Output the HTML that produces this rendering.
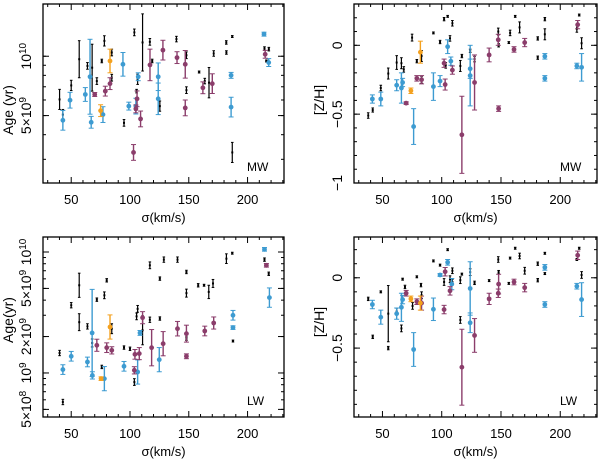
<!DOCTYPE html>
<html><head><meta charset="utf-8">
<style>
html,body{margin:0;padding:0;background:#fff;}
svg{display:block;font-family:"Liberation Sans",sans-serif;}
</style></head>
<body>
<svg id="chart" width="600" height="462" viewBox="0 0 600 462" xmlns="http://www.w3.org/2000/svg"></svg>
<script>
// ---- Data: [sigma, value, error] ----
const ageMwBlue=[[42.9,9.675,.05],[49,9.777,.04],[62,9.806,.035],[66,9.896,.19],[67,9.665,.03],[77,9.704,.04],[94,9.959,.06],[99,9.747,.02],[105,9.747,.04],[107,9.896,.02],[124,9.896,.07],[124,9.784,.08],[186,9.903,.015],[186,9.742,.05],[214,10.112,.01],[218,9.968,.02]];
const ageMwPurple=[[70,9.806,.01],[79,9.823,.025],[83,9.861,.03],[103,9.512,.04],[105,9.733,.02],[106,9.784,.04],[109,9.682,.04],[117,9.956,.08],[128,10.031,.05],[140,9.993,.03],[147,9.738,.04],[147,9.959,.07],[162,9.840,.03],[170,9.861,.05],[215,10.01,.02]];
const ageMwOrange=[[75,9.724,.03],[83,9.976,.06]];
const ageMwBlack=[[40.1,9.781,.051],[42.9,9.704,.026],[50,9.852,.026],[56.8,9.985,.094],[63.8,9.951,.017],[67.8,9.942,.119],[71.8,9.874,.017],[76,9.976,.009],[78.2,10.078,.026],[84.5,10.019,.017],[84.5,9.891,.017],[94.9,9.662,.017],[103.7,10.121,.017],[105.6,9.823,.009],[106.5,9.883,.026],[110.7,10.07,.145],[116.9,10.073,.017],[118.9,9.976,.009],[125.4,9.747,.026],[139.5,10.087,.014],[148,10.005,.017],[148,9.828,.017],[158.8,9.92,.005],[163.6,9.874,.014],[167.2,9.866,.077],[171.2,10.014,.014],[181.9,10.07,.009],[182,10.019,.009],[187,10.1,.005],[187,9.512,.051],[214.4,10.039,.009],[218.1,10.036,.009],[216,9.976,.005]];

const zMwBlue=[[41.5,-0.39,.03],[48.6,-0.39,.05],[62,-0.29,.04],[66,-0.31,.11],[67,-0.27,.03],[76.3,-0.59,.13],[93,-0.30,.1],[98.6,-0.26,.04],[105,-0.01,.05],[107.7,-0.115,.03],[124,-0.17,.07],[124,-0.22,.22],[187,-0.08,.02],[187,-0.24,.02],[214,-0.15,.02],[218,-0.16,.1]];
const zMwPurple=[[70,-0.42,.01],[79,-0.24,.02],[83,-0.25,.03],[102,-0.13,.03],[102.9,-0.285,.04],[109,-0.18,.03],[117,-0.65,.28],[127.7,-0.27,.2],[140,-0.07,.05],[147.7,0.04,.04],[148,-0.46,.02],[161,-0.03,.02],[170,0.02,.03],[214.7,0.15,.03]];
const zMwOrange=[[74,-0.33,.02],[82,-0.05,.08]];
const zMwBlack=[[38,-0.51,.02],[41.8,-0.47,.015],[48.6,-0.31,.02],[54.9,-0.205,.04],[62,-0.125,.05],[66,-0.13,.04],[68,-0.175,.02],[75,0.056,.025],[79,-0.115,.012],[83,-0.078,.04],[83,-0.25,.025],[93,0.09,.007],[98.6,0.024,.012],[102,0.19,.012],[103.4,-0.146,.02],[105,0.21,.007],[107,0.05,.02],[109,0.16,.02],[115.7,-0.15,.04],[117,-0.078,.012],[124,-0.04,.012],[127.7,-0.1,.02],[147.7,0.1,.025],[148,0,.012],[157.7,0.09,.02],[156.6,0.02,.007],[162,0.21,.007],[165.7,0.13,.04],[181,0.05,.012],[181,-0.09,.012],[187,0.19,.012],[187,0.08,.04],[214,0.12,.025],[216,0.22,.007],[218,0.015,.04]];

const ageLwBlue=[[42.9,9.028,.04],[50,9.138,.04],[63.8,9.091,.04],[67.8,9.331,.36],[68,8.98,.03],[78.2,8.953,.1],[94.9,9.055,.04],[106.5,9.008,.1],[108.5,9.331,.02],[124.9,9.11,.1],[187.6,9.477,.04],[187.6,9.375,.015],[214.4,10.022,.015],[218.6,9.623,.08]];
const ageLwPurple=[[71.8,9.229,.05],[80.2,9.209,.04],[84.5,9.187,.03],[103.7,9.022,.03],[104.2,9.154,.04],[107.9,9.16,.05],[110.7,9.457,.05],[118.4,9.209,.15],[128.2,9.242,.1],[140.4,9.366,.06],[148,9.138,.02],[148,9.325,.07],[163.6,9.347,.04],[171.2,9.413,.05],[216,9.89,.015]];
const ageLwOrange=[[75.4,8.953,.015],[83,9.38,.1]];
const ageLwBlack=[[40.1,9.165,.022],[42.9,8.76,.022],[50,9.56,.022],[56.8,9.725,.1],[56.8,9.42,.07],[63.8,9.385,.022],[67.8,9.248,.033],[71.8,9.606,.014],[78.2,9.642,.028],[80.2,9.766,.014],[84.5,9.366,.041],[94.9,9.21,.014],[76,9.05,.014],[100,9.2,.014],[103.7,8.925,.028],[105.6,9.468,.028],[106.5,9.53,.028],[110.7,9.353,.12],[116.9,9.89,.028],[116.9,9.44,.022],[125.4,9.78,.014],[125.4,9.45,.014],[128.8,9.937,.022],[140.4,9.937,.022],[148,9.835,.014],[148,9.66,.033],[148,9.284,.014],[158,9.725,.014],[163,9.725,.008],[167,9.67,.055],[170.6,9.74,.033],[182,9.945,.04],[187,9.99,.008],[187.6,9.264,.008],[214.4,9.937,.014],[218,9.82,.014]];

const zLwBlue=[[41.5,-0.19,.03],[48.6,-0.28,.05],[62,-0.255,.04],[66,-0.21,.1],[67,-0.155,.03],[76.3,-0.51,.12],[93,-0.224,.08],[98.6,0.02,.01],[105,0.11,.02],[108.5,-0.045,.04],[124,-0.076,.19],[124,-0.32,.07],[187,0.074,.02],[187,-0.19,.02],[214,-0.06,.02],[218,-0.155,.12]];
const zLwPurple=[[70,-0.11,.02],[79,-0.17,.02],[83,-0.18,.05],[102,-0.226,.03],[102.9,0.043,.03],[107,-0.093,.03],[117,-0.636,.27],[127.7,-0.41,.12],[140,-0.15,.04],[147.7,-0.11,.03],[148,-0.045,.07],[161,-0.03,.02],[170,-0.07,.03],[214.7,0.16,.03]];
const zLwOrange=[[74,-0.15,.02],[82,-0.18,.05]];
const zLwBlack=[[38,-0.15,.012],[41.8,-0.42,.012],[48.6,-0.1,.007],[54.9,-0.255,.2],[54.9,-0.5,.012],[62,-0.24,.024],[66,-0.36,.024],[67,-0.01,.007],[69,-0.065,.012],[75.4,-0.2,.024],[79,0.007,.007],[82.5,-0.052,.012],[83,-0.124,.024],[93,0.12,.007],[98.6,0.09,.007],[102,-0.03,.024],[105,0.2,.007],[107,-0.01,.024],[109,0.05,.02],[109,-0.03,.02],[115.7,-0.017,.024],[117,0.026,.007],[115.7,-0.3,.024],[124,0.04,.024],[127.7,-0.036,.012],[140,-0.02,.007],[147.7,0.13,.02],[148,0.04,.012],[156.6,-0.04,.007],[157.7,0.14,.007],[162,0.21,.007],[165.7,0.155,.02],[170,0.05,.024],[181,0.1,.012],[181,-0.017,.012],[187,0.174,.007],[187,0.03,.007],[214,0.13,.007],[216,0.21,.007],[218,0.02,.024]];

const xTicks=[50,100,150,200];
const ageMwTicks=[[10,"10",true],[Math.log10(5e9),"5×10",true]];
const ageLwTicks=[[10,"10",true],[Math.log10(5e9),"5×10",true],[Math.log10(2e9),"2×10",true],[9,"10",true],[Math.log10(5e8),"5×10",true]];
const zTicks=[0,-0.5,-1];

const NS="http://www.w3.org/2000/svg";
const svg=document.getElementById('chart');
function mk(tag,attrs,parent){const e=document.createElementNS(NS,tag);for(const k in attrs)e.setAttribute(k,attrs[k]);(parent||svg).appendChild(e);return e;}
const C={blue:"#3d9bd1",purple:"#8b3d6b",orange:"#f4a11f",black:"#000"};

function panel(cfg){
  const g=mk('g',{});
  
  
  const L=cfg.x0,R=cfg.x1,T=cfg.y0,B=cfg.y1;
  const sx=v=>L+(v-26)/(231-26)*(R-L);
  const sy=v=>B-(v-cfg.ymin)/(cfg.ymax-cfg.ymin)*(B-T);
  const frame=mk('rect',{x:L,y:T,width:R-L,height:B-T,fill:'none',stroke:'#000','stroke-width':1.3},g);
  
  
  for(let v=30;v<=230;v+=10){
    const major=v%50===0;const len=major?6:3;const x=sx(v);
    mk('line',{x1:x,x2:x,y1:B,y2:B-len,stroke:'#000','stroke-width':1},g);
    mk('line',{x1:x,x2:x,y1:T,y2:T+len,stroke:'#000','stroke-width':1},g);
  }
  xTicks.forEach(v=>{
    const t=mk('text',{x:sx(v),y:B+21,'text-anchor':'middle','font-size':13},g);
    t.textContent=v;
    
    
  });
  const xl=mk('text',{x:(L+R)/2,y:B+39,'text-anchor':'middle','font-size':13},g);
  xl.textContent='σ(km/s)';
  
  
  cfg.minor.forEach(v=>{const y=sy(v);if(y<T||y>B)return;
    mk('line',{x1:L,x2:L+3,y1:y,y2:y,stroke:'#000'},g);mk('line',{x1:R,x2:R-3,y1:y,y2:y,stroke:'#000'},g);});
  cfg.major.forEach(v=>{const y=sy(v);
    mk('line',{x1:L,x2:L+6,y1:y,y2:y,stroke:'#000'},g);mk('line',{x1:R,x2:R-6,y1:y,y2:y,stroke:'#000'},g);});
  cfg.labels.forEach(lb=>{
    const y=sy(lb[0]);
    const t=mk('text',{x:0,y:0,'text-anchor':'middle','font-size':14,transform:`translate(${L-12},${y}) rotate(-90)`},g);
    t.textContent=lb[1];
    if(lb[2]){const s=mk('tspan',{dy:-5,'font-size':10},t);s.textContent=lb[3];}
    
    
  });
  const yl=mk('text',{x:0,y:0,'text-anchor':'middle','font-size':14,transform:`translate(${L-30},${cfg.ylY}) rotate(-90)`},g);
  yl.textContent=cfg.ytitle;
  
  
  const tag=mk('text',{x:R-37,y:B-12,'font-size':12},g);
  tag.textContent=cfg.tag;
  
  
  function series(arr,color,r,nm){
    arr.forEach(d=>{
      const x=sx(d[0]),y=sy(d[1]),y1=sy(d[1]+d[2]),y2=sy(d[1]-d[2]);
      const pg=mk('g',{},g);
      
      
      const cw=r>0?2.5:1.3;
      mk('line',{x1:x,x2:x,y1:y1,y2:y2,stroke:color,'stroke-width':r>0?1.4:1.2},pg);
      mk('line',{x1:x-cw,x2:x+cw,y1:y1,y2:y1,stroke:color,'stroke-width':1},pg);
      mk('line',{x1:x-cw,x2:x+cw,y1:y2,y2:y2,stroke:color,'stroke-width':1},pg);
      if(r>0)mk('circle',{cx:x,cy:y,r:r,fill:color},pg);
      else mk('rect',{x:x-1,y:y-1,width:2,height:2,fill:color},pg);
    });
  }
  series(cfg.black,C.black,0,'black-point');
  series(cfg.blue,C.blue,2.4,'blue-point');
  series(cfg.purple,C.purple,2.4,'purple-point');
  series(cfg.orange,C.orange,2.4,'orange-point');
}
function logMinor(lo,hi){const a=[];for(let e=8;e<=10;e++)for(let m=1;m<=9;m++){const v=Math.log10(m*Math.pow(10,e));if(v>=lo&&v<=hi)a.push(v);}return a;}
function zMinor(){const a=[];for(let i=-10;i<=3;i++)a.push(i/10);return a;}

panel({name:'panel-age-mw',x0:43,x1:284,y0:4,y1:183,ymin:9.357,ymax:10.265,black:ageMwBlack,blue:ageMwBlue,purple:ageMwPurple,orange:ageMwOrange,
  minor:logMinor(9.357,10.265),major:[10,Math.log10(5e9)],
  labels:ageMwTicks.map(t=>[t[0],t[1],true,t[0]===10?"10":"9"]),ytitle:'Age (yr)',ylY:110,tag:'MW'});
panel({name:'panel-zh-mw',x0:354,x1:597,y0:4,y1:183,ymin:-1.0,ymax:0.30,black:zMwBlack,blue:zMwBlue,purple:zMwPurple,orange:zMwOrange,
  minor:zMinor(),major:zTicks,labels:zTicks.map(v=>[v,v===0?"0":(v===-1?"−1":"−0.5"),false]),ytitle:'[Z/H]',ylY:100,tag:'MW'});
panel({name:'panel-age-lw',x0:43,x1:284,y0:237,y1:417,ymin:8.636,ymax:10.124,black:ageLwBlack,blue:ageLwBlue,purple:ageLwPurple,orange:ageLwOrange,
  minor:logMinor(8.636,10.124),major:ageLwTicks.map(t=>t[0]),
  labels:ageLwTicks.map(t=>[t[0],t[1],true,(t[0]>=9.99||t[0]>9.5)?(t[0]>=9.99?"10":"9"):(t[0]>=8.99?"9":"8")]),ytitle:'Age(yr)',ylY:320,tag:'LW'});
panel({name:'panel-zh-lw',x0:354,x1:597,y0:237,y1:417,ymin:-0.99,ymax:0.29,black:zLwBlack,blue:zLwBlue,purple:zLwPurple,orange:zLwOrange,
  minor:zMinor(),major:[0,-0.5],labels:[[0,"0",false],[-0.5,"−0.5",false]],ytitle:'[Z/H]',ylY:322,tag:'LW'});
</script>
</body></html>
